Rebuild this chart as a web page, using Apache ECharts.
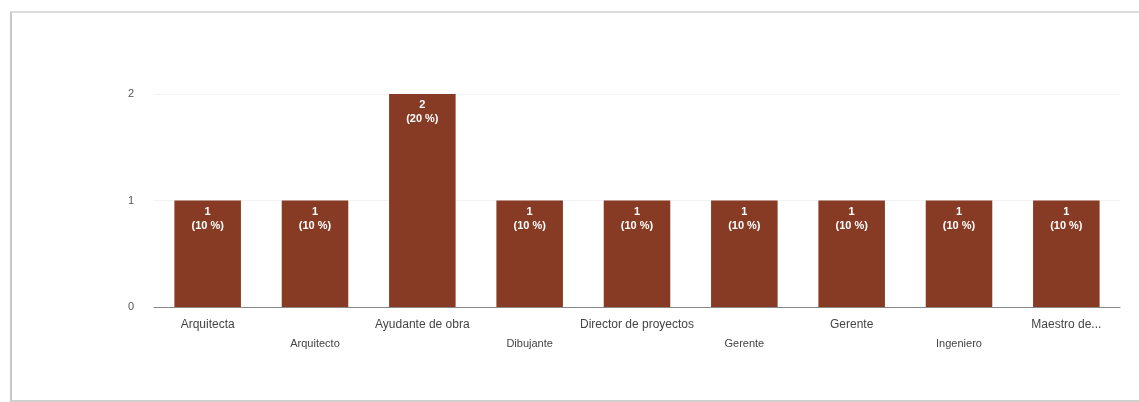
<!DOCTYPE html>
<html>
<head>
<meta charset="utf-8">
<script src="https://cdn.jsdelivr.net/npm/echarts@6/dist/echarts.min.js"></script>
<style>
  html, body { margin: 0; padding: 0; background: #fff; }
  #frame { position: absolute; left: 10px; top: 11px; width: 1140px; height: 387px;
           border-left: 2px solid #c8c8c8; border-top: 2px solid #dcdcdc; border-bottom: 2px solid #d0d0d0; }
  #chart { position: absolute; left: 0; top: 0; width: 1139px; height: 402px; }
</style>
</head>
<body>
<div id="frame"></div>
<div id="chart"></div>
<script>
const categories = ['Arquitecta', 'Arquitecto', 'Ayudante de obra', 'Dibujante', 'Director de proyectos', 'Gerente', 'Gerente', 'Ingeniero', 'Maestro de...'];
const counts = [1, 1, 2, 1, 1, 1, 1, 1, 1];
const percents = [10, 10, 20, 10, 10, 10, 10, 10, 10];
const yTicks = [0, 1, 2];

const chart = echarts.init(document.getElementById('chart'));
chart.setOption({
  animation: false,
  grid: { left: 154, right: 19, top: 94, bottom: 95, containLabel: false },
  xAxis: {
    type: 'category',
    data: categories,
    axisTick: { show: false },
    axisLine: { lineStyle: { color: '#888', width: 1 } },
    axisLabel: {
      interval: 0,
      margin: 11,
      formatter: function (v, i) { return i % 2 ? '{b|' + v + '}' : '{a|' + v + '}'; },
      rich: {
        a: { fontFamily: 'Liberation Sans, Arial', fontSize: 12, color: '#444', lineHeight: 14 },
        b: { fontFamily: 'Liberation Sans, Arial', fontSize: 11, color: '#444', lineHeight: 14, padding: [38, 0, 0, 0] }
      }
    }
  },
  yAxis: {
    type: 'value',
    min: yTicks[0],
    max: yTicks[yTicks.length - 1],
    interval: 1,
    axisLine: { show: false },
    axisTick: { show: false },
    axisLabel: { margin: 20, fontFamily: 'Liberation Sans, Arial', fontSize: 11, color: '#555' },
    splitLine: { lineStyle: { color: '#f2f2f2' } }
  },
  series: [{
    type: 'bar',
    data: counts,
    barWidth: '62%',
    itemStyle: { color: '#873b24' },
    label: {
      show: true,
      position: 'insideTop',
      distance: 4,
      fontFamily: 'Liberation Sans, Arial',
      fontSize: 11,
      fontWeight: 'bold',
      color: '#fff',
      lineHeight: 14,
      formatter: function (p) { return counts[p.dataIndex] + '\n(' + percents[p.dataIndex] + ' %)'; }
    }
  }]
});
</script>
</body>
</html>
